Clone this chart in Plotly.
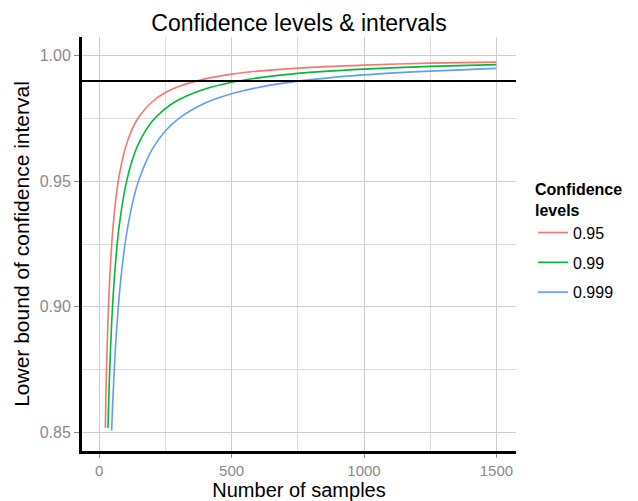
import plotly.graph_objects as go

# ---- data ----
levels = ["0.95", "0.99", "0.999"]
colors = ["#F8766D", "#00BA38", "#619CFF"]

n_095 = [23, 25, 27, 30, 35, 40, 45, 50, 60, 75, 100, 125, 150, 200, 250, 300, 400, 500, 600, 750, 1000, 1250, 1500]
y_095 = [0.8518, 0.8628, 0.8723, 0.8843, 0.9000, 0.9119, 0.9213, 0.9289, 0.9404, 0.9520, 0.9638, 0.9709,
         0.9757, 0.9817, 0.9854, 0.9878, 0.9908, 0.9927, 0.9939, 0.9951, 0.9963, 0.9971, 0.9975]

n_099 = [33, 35, 37, 40, 45, 50, 60, 75, 100, 125, 150, 200, 250, 300, 400, 500, 600, 750, 1000, 1250, 1500]
y_099 = [0.8517, 0.8595, 0.8666, 0.8759, 0.8889, 0.8995, 0.9155, 0.9318, 0.9484, 0.9585, 0.9653, 0.9739,
         0.9790, 0.9825, 0.9868, 0.9895, 0.9912, 0.9930, 0.9947, 0.9958, 0.9965]

n_0999 = [47, 50, 52, 55, 60, 65, 70, 80, 100, 125, 150, 200, 250, 300, 400, 500, 600, 750, 1000, 1250, 1500]
y_0999 = [0.8507, 0.8590, 0.8640, 0.8709, 0.8810, 0.8896, 0.8971, 0.9094, 0.9268, 0.9410, 0.9506, 0.9627,
          0.9701, 0.9750, 0.9812, 0.9849, 0.9874, 0.9899, 0.9924, 0.9939, 0.9950]

threshold = 0.99

x_ticks = [0, 500, 1000, 1500]
y_ticks = [0.85, 0.90, 0.95, 1.00]
y_tick_text = ["0.85", "0.90", "0.95", "1.00"]

series = [(n_095, y_095), (n_099, y_099), (n_0999, y_0999)]

FONT = "Liberation Sans, Arial, sans-serif"

fig = go.Figure()
for lab, col, (xs, ys) in zip(levels, colors, series):
    fig.add_trace(go.Scatter(
        x=xs, y=ys, mode="lines", name=lab, legendgroup=lab,
        line=dict(color=col, width=1.6, shape="spline", smoothing=0.8),
    ))

fig.add_hline(y=threshold, line=dict(color="black", width=2))

fig.update_layout(
    width=638, height=501,
    margin=dict(l=82, r=122, t=37, b=50, autoexpand=False),
    paper_bgcolor="white", plot_bgcolor="white",
    font=dict(family=FONT, color="black"),
    title=dict(text="Confidence levels & intervals", x=299 / 638, xref="container",
               xanchor="center", y=1 - 23 / 501, yanchor="middle",
               font=dict(size=23, color="black", family=FONT)),
    legend=dict(
        title=dict(text="<b>Confidence<br>levels</b>", font=dict(size=16, family=FONT, color="black")),
        font=dict(size=16, family=FONT, color="black"),
        x=(533 - 82) / 434, xanchor="left",
        y=(451 - 174) / 414, yanchor="top",
        tracegroupgap=6,
        bgcolor="rgba(0,0,0,0)",
    ),
    showlegend=True,
)

fig.update_xaxes(
    range=[-65, 1574], automargin=False,
    tickmode="array", tickvals=x_ticks, ticktext=[str(v) for v in x_ticks],
    ticks="outside", ticklen=4, tickwidth=1, tickcolor="#8c8c8c",
    tickfont=dict(size=15, color="#8a8a8a", family=FONT),
    showline=True, linecolor="black", linewidth=3,
    showgrid=True, gridcolor="#cfcfcf", gridwidth=1.4,
    minor=dict(showgrid=True, tickvals=[250, 750, 1250], gridcolor="#dcdcdc", gridwidth=1.1),
    zeroline=False,
    title=dict(text="Number of samples", font=dict(size=20, color="black", family=FONT), standoff=4),
)
fig.update_yaxes(
    range=[0.8425, 1.0075], automargin=False,
    tickmode="array", tickvals=y_ticks, ticktext=y_tick_text,
    ticks="outside", ticklen=5, tickwidth=1, tickcolor="#8c8c8c",
    tickfont=dict(size=16, color="#8a8a8a", family=FONT),
    showline=True, linecolor="black", linewidth=3,
    showgrid=True, gridcolor="#cfcfcf", gridwidth=1.4,
    minor=dict(showgrid=True, tickvals=[0.875, 0.925, 0.975], gridcolor="#dcdcdc", gridwidth=1.1),
    zeroline=False,
    title=dict(text="Lower bound of confidence interval", font=dict(size=21, color="black", family=FONT), standoff=5),
)

fig.write_html("out.html")
